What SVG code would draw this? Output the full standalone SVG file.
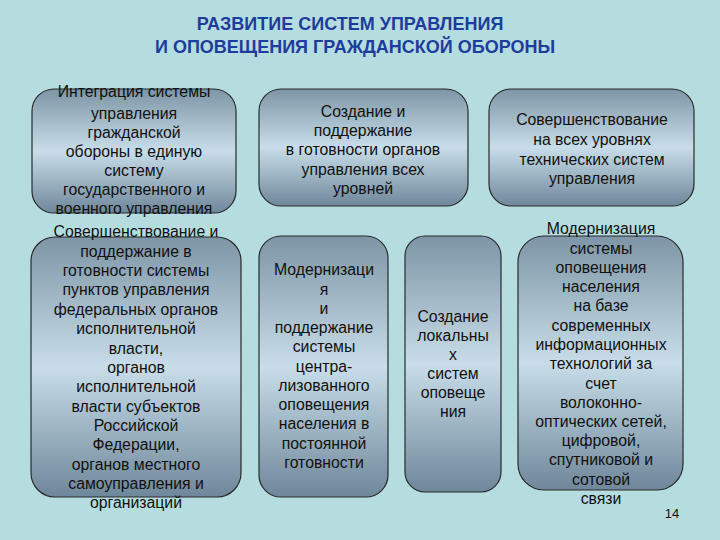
<svg xmlns="http://www.w3.org/2000/svg" width="720" height="540" viewBox="0 0 720 540">
<defs>
<linearGradient id="g" x1="0" y1="0" x2="0" y2="1">
<stop offset="0" stop-color="#7d95a6"/>
<stop offset="0.5" stop-color="#c8dde9"/>
<stop offset="1" stop-color="#6e879a"/>
</linearGradient>
<style>
.box{fill:url(#g);stroke:#2a2a2a;stroke-width:1.2}
.t{font-family:"Liberation Sans",Arial,sans-serif;font-size:15.8px;fill:#111;text-anchor:middle}
.h{font-family:"Liberation Sans",Arial,sans-serif;font-size:18px;font-weight:bold;fill:#1d3c9c;text-anchor:middle}
</style>
</defs>
<rect width="720" height="540" fill="#b5dde0"/>
<g id="title">
<text class="h" x="350" y="30">РАЗВИТИЕ СИСТЕМ УПРАВЛЕНИЯ</text>
<text class="h" x="355" y="53">И ОПОВЕЩЕНИЯ ГРАЖДАНСКОЙ ОБОРОНЫ</text>
</g>
<g id="n1">
<rect class="box" x="32" y="89" width="204" height="124" rx="22"/>
<text class="t" x="134" y="97">Интеграция системы</text>
<text class="t" x="134" y="119">управления</text>
<text class="t" x="134" y="138">гражданской</text>
<text class="t" x="134" y="157">обороны в единую</text>
<text class="t" x="134" y="176">систему</text>
<text class="t" x="134" y="195">государственного и</text>
<text class="t" x="134" y="214">военного управления</text>
</g>
<g id="n2">
<rect class="box" x="259" y="89" width="209" height="117" rx="22"/>
<text class="t" x="363" y="117">Создание и</text>
<text class="t" x="363" y="136">поддержание</text>
<text class="t" x="363" y="155">в готовности органов</text>
<text class="t" x="363" y="175">управления всех</text>
<text class="t" x="363" y="194">уровней</text>
</g>
<g id="n3">
<rect class="box" x="489" y="89" width="205" height="117" rx="22"/>
<text class="t" x="592" y="125">Совершенствование</text>
<text class="t" x="592" y="145">на всех уровнях</text>
<text class="t" x="592" y="165">технических систем</text>
<text class="t" x="592" y="184">управления</text>
</g>
<g id="n4">
<rect class="box" x="31" y="237" width="210" height="260" rx="24"/>
<text class="t" x="136" y="237">Совершенствование и</text>
<text class="t" x="136" y="257">поддержание в</text>
<text class="t" x="136" y="276">готовности системы</text>
<text class="t" x="136" y="295">пунктов управления</text>
<text class="t" x="136" y="315">федеральных органов</text>
<text class="t" x="136" y="334">исполнительной</text>
<text class="t" x="136" y="354">власти,</text>
<text class="t" x="136" y="373">органов</text>
<text class="t" x="136" y="392">исполнительной</text>
<text class="t" x="136" y="412">власти субъектов</text>
<text class="t" x="136" y="431">Российской</text>
<text class="t" x="136" y="450">Федерации,</text>
<text class="t" x="136" y="470">органов местного</text>
<text class="t" x="136" y="489">самоуправления и</text>
<text class="t" x="136" y="508">организаций</text>
</g>
<g id="n5">
<rect class="box" x="259" y="236" width="129" height="261" rx="22"/>
<text class="t" x="324" y="275">Модернизаци</text>
<text class="t" x="324" y="295">я</text>
<text class="t" x="324" y="314">и</text>
<text class="t" x="324" y="333">поддержание</text>
<text class="t" x="324" y="352">системы</text>
<text class="t" x="324" y="372">центра-</text>
<text class="t" x="324" y="391">лизованного</text>
<text class="t" x="324" y="410">оповещения</text>
<text class="t" x="324" y="429">населения в</text>
<text class="t" x="324" y="449">постоянной</text>
<text class="t" x="324" y="468">готовности</text>
</g>
<g id="n6">
<rect class="box" x="405" y="236" width="96" height="256" rx="20"/>
<text class="t" x="453" y="322">Создание</text>
<text class="t" x="453" y="341">локальны</text>
<text class="t" x="453" y="360">х</text>
<text class="t" x="453" y="379">систем</text>
<text class="t" x="453" y="398">оповеще</text>
<text class="t" x="453" y="417">ния</text>
</g>
<g id="n7">
<rect class="box" x="518" y="236" width="165" height="254" rx="26"/>
<text class="t" x="601" y="234">Модернизация</text>
<text class="t" x="601" y="254">системы</text>
<text class="t" x="601" y="273">оповещения</text>
<text class="t" x="601" y="292">населения</text>
<text class="t" x="601" y="311">на базе</text>
<text class="t" x="601" y="331">современных</text>
<text class="t" x="601" y="350">информационных</text>
<text class="t" x="601" y="369">технологий за</text>
<text class="t" x="601" y="389">счет</text>
<text class="t" x="601" y="408">волоконно-</text>
<text class="t" x="601" y="427">оптических сетей,</text>
<text class="t" x="601" y="446">цифровой,</text>
<text class="t" x="601" y="465">спутниковой и</text>
<text class="t" x="601" y="485">сотовой</text>
<text class="t" x="601" y="504">связи</text>
</g>
<g id="connectors"></g>
<text x="672" y="518" style="font-family:'Liberation Sans',Arial,sans-serif;font-size:13px;fill:#111;text-anchor:middle">14</text>
</svg>
